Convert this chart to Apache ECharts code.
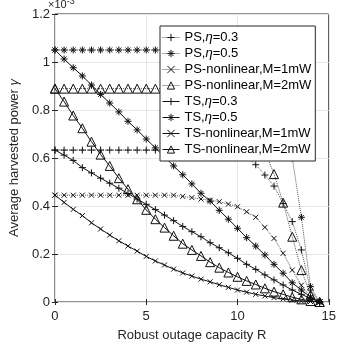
<!DOCTYPE html>
<html>
<head>
<meta charset="utf-8">
<script src="https://cdn.jsdelivr.net/npm/echarts@6/dist/echarts.min.js"></script>
<style>
  html, body { margin: 0; padding: 0; background: #fff; }
  #main { width: 339px; height: 349px; }
</style>
</head>
<body>
<div id="main"></div>
<script>
// robust outage capacity R
var R = [0, 0.5, 1, 1.5, 2, 2.5, 3, 3.5, 4, 4.5, 5, 5.5, 6, 6.5, 7, 7.5, 8, 8.5, 9, 9.5, 10, 10.5, 11, 11.5, 12, 12.5, 13, 13.5, 14, 14.5];

// average harvested power (x 1e-3)
var ps03 = [0.633, 0.633, 0.633, 0.633, 0.633, 0.633, 0.633, 0.633, 0.633, 0.633, 0.633, 0.633, 0.633, 0.633, 0.633, 0.633, 0.633, 0.633, 0.632, 0.630, 0.622, 0.605, 0.572, 0.529, 0.483, 0.410, 0.335, 0.217, 0.050, 0];
var ps05 = [1.05, 1.05, 1.05, 1.05, 1.05, 1.05, 1.05, 1.05, 1.05, 1.05, 1.05, 1.05, 1.05, 1.05, 1.05, 1.05, 1.05, 1.05, 1.05, 1.05, 1.05, 1.05, 1.05, 1.03, 0.98, 0.85, 0.60, 0.353, 0.064, 0];
var psNl1 = [0.445, 0.445, 0.445, 0.445, 0.445, 0.445, 0.445, 0.445, 0.445, 0.445, 0.445, 0.445, 0.445, 0.445, 0.440, 0.435, 0.429, 0.424, 0.418, 0.408, 0.397, 0.376, 0.353, 0.311, 0.265, 0.203, 0.133, 0.070, 0.020, 0];
var psNl2 = [0.889, 0.889, 0.889, 0.889, 0.889, 0.889, 0.889, 0.889, 0.889, 0.889, 0.889, 0.889, 0.889, 0.889, 0.889, 0.889, 0.889, 0.885, 0.88, 0.86, 0.83, 0.78, 0.71, 0.63, 0.533, 0.414, 0.272, 0.133, 0.030, 0];
var ts03 = [0.633, 0.612, 0.590, 0.560, 0.538, 0.516, 0.495, 0.474, 0.452, 0.429, 0.407, 0.385, 0.362, 0.339, 0.315, 0.293, 0.272, 0.247, 0.226, 0.205, 0.182, 0.157, 0.136, 0.113, 0.092, 0.071, 0.050, 0.032, 0.015, 0];
var ts05 = [1.05, 1.0125, 0.976, 0.942, 0.904, 0.865, 0.829, 0.792, 0.753, 0.717, 0.679, 0.642, 0.605, 0.567, 0.530, 0.492, 0.453, 0.420, 0.382, 0.345, 0.307, 0.268, 0.233, 0.196, 0.157, 0.120, 0.080, 0.050, 0.020, 0];
var tsNl1 = [0.445, 0.415, 0.386, 0.360, 0.330, 0.304, 0.279, 0.255, 0.233, 0.212, 0.190, 0.171, 0.154, 0.137, 0.121, 0.108, 0.095, 0.084, 0.072, 0.061, 0.050, 0.041, 0.032, 0.025, 0.018, 0.013, 0.008, 0.004, 0.002, 0];
var tsNl2 = [0.889, 0.835, 0.777, 0.724, 0.668, 0.614, 0.567, 0.516, 0.470, 0.428, 0.384, 0.345, 0.310, 0.276, 0.243, 0.217, 0.192, 0.166, 0.143, 0.123, 0.105, 0.088, 0.073, 0.057, 0.043, 0.032, 0.020, 0.011, 0.004, 0];

var names = ['PS,η=0.3', 'PS,η=0.5', 'PS-nonlinear,M=1mW', 'PS-nonlinear,M=2mW',
             'TS,η=0.3', 'TS,η=0.5', 'TS-nonlinear,M=1mW', 'TS-nonlinear,M=2mW'];

var PLUS = 'path://M5,0L5,10M0,5L10,5';
var STAR = 'path://M5,0L5,10M0,5L10,5M1.5,1.5L8.5,8.5M8.5,1.5L1.5,8.5';
var CROSS = 'path://M0,0L10,10M10,0L0,10';

function pairs(ys) {
  return R.map(function (r, i) { return [r, ys[i]]; });
}

function mk(name, ys, symbol, size, dotted) {
  return {
    name: name,
    type: 'line',
    data: pairs(ys),
    symbol: symbol,
    symbolSize: size,
    showAllSymbol: true,
    lineStyle: { color: dotted ? '#555' : '#111', width: 1, type: dotted ? 'dotted' : 'solid' },
    itemStyle: { color: 'rgba(0,0,0,0)', borderColor: '#111', borderWidth: 1 },
    emphasis: { disabled: true }
  };
}

var chartDom = document.getElementById('main');
var myChart = echarts.init(chartDom);
var font = 'Liberation Sans, Arial, sans-serif';
var option = {
  animation: false,
  textStyle: { fontFamily: font },
  grid: { left: 47, right: 4, top: 14, bottom: 47, show: true, borderColor: '#262626', borderWidth: 1 },
  legend: {
    orient: 'vertical',
    left: 160,
    top: 26,
    padding: [5, 4, 5, 2],
    itemGap: 3,
    itemWidth: 17,
    itemHeight: 9,
    backgroundColor: '#fff',
    borderColor: '#262626',
    borderWidth: 1,
    lineStyle: { width: 1 },
    itemStyle: { borderWidth: 1 },
    data: names,
    formatter: function (n) { return n.replace('η', '{i|η}'); },
    textStyle: {
      fontSize: 13, color: '#000', fontFamily: font, lineHeight: 13,
      rich: { i: { fontStyle: 'italic', fontSize: 13, color: '#000', fontFamily: font, lineHeight: 13 } }
    }
  },
  xAxis: [{
    type: 'value',
    min: 0, max: 15, interval: 5,
    name: 'Robust outage capacity R',
    nameLocation: 'middle',
    nameGap: 27,
    nameTextStyle: { fontSize: 13, color: '#262626' },
    axisLine: { show: false },
    axisTick: { inside: true, length: 3, lineStyle: { color: '#262626' } },
    axisLabel: { fontSize: 13, color: '#262626', margin: 8 },
    splitLine: { lineStyle: { color: '#e6e6e6' } }
  }, {
    type: 'value', position: 'top',
    min: 0, max: 15, interval: 5,
    axisLine: { show: false },
    axisTick: { inside: true, length: 3, lineStyle: { color: '#262626' } },
    axisLabel: { show: false },
    splitLine: { show: false }
  }],
  yAxis: [{
    type: 'value',
    min: 0, max: 1.2, interval: 0.2,
    name: 'Average harvested power {i|γ}',
    nameLocation: 'middle',
    nameGap: 27,
    nameTextStyle: { fontSize: 13, color: '#262626', rich: { i: { fontStyle: 'italic', fontSize: 13, color: '#262626' } } },
    axisLine: { show: false },
    axisTick: { inside: true, length: 3, lineStyle: { color: '#262626' } },
    axisLabel: { fontSize: 13, color: '#262626', margin: 5 },
    splitLine: { lineStyle: { color: '#e6e6e6' } }
  }, {
    type: 'value', position: 'right',
    min: 0, max: 1.2, interval: 0.2,
    axisLine: { show: false },
    axisTick: { inside: true, length: 3, lineStyle: { color: '#262626' } },
    axisLabel: { show: false },
    splitLine: { show: false }
  }],
  graphic: [{
    type: 'text',
    left: 48,
    top: -3,
    style: {
      text: '×10{s|-3}',
      fontSize: 11,
      fill: '#262626',
      fontFamily: font,
      rich: { s: { fontSize: 9, verticalAlign: 'top', fill: '#262626', padding: [0, 0, 6, 0] } }
    }
  }],
  series: [
    mk(names[0], ps03, PLUS, 7, true),
    mk(names[1], ps05, STAR, 7, true),
    mk(names[2], psNl1, CROSS, 5, true),
    mk(names[3], psNl2, 'triangle', 9, true),
    mk(names[4], ts03, PLUS, 7, false),
    mk(names[5], ts05, STAR, 7, false),
    mk(names[6], tsNl1, CROSS, 5, false),
    mk(names[7], tsNl2, 'triangle', 9, false)
  ]
};

option && myChart.setOption(option);
</script>
</body>
</html>
